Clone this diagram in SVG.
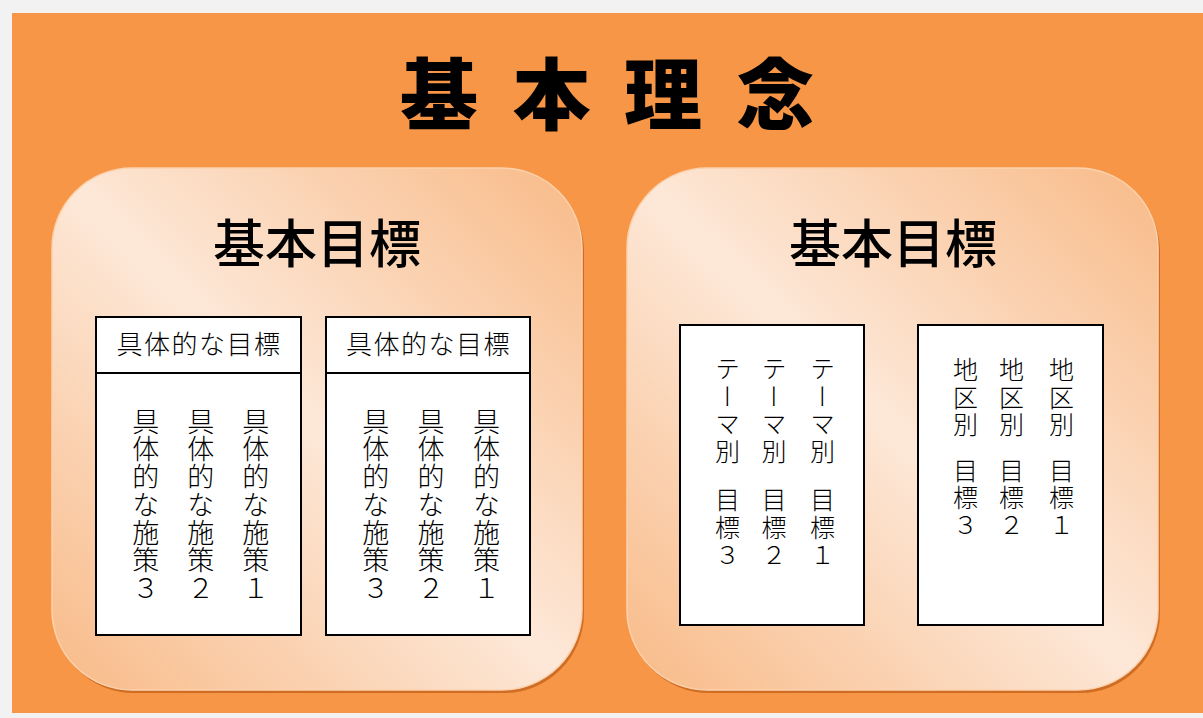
<svg xmlns="http://www.w3.org/2000/svg" width="1203" height="718" viewBox="0 0 1203 718">
<defs>
<linearGradient id="panel" x1="1" y1="0" x2="0" y2="1">
<stop offset="0" stop-color="#F8BA87"/>
<stop offset="0.5" stop-color="#FDE8D8"/>
<stop offset="1" stop-color="#F8BA87"/>
</linearGradient>
<linearGradient id="panel2" x1="1" y1="0" x2="0" y2="1">
<stop offset="0" stop-color="#F8BA87"/>
<stop offset="0.5" stop-color="#FDE8D8"/>
<stop offset="1" stop-color="#F8BA87"/>
</linearGradient>
</defs>
<style>
.title{font-family:"Noto Sans CJK JP","Noto Sans CJK SC",sans-serif;font-weight:900;font-size:78px;fill:#000;text-anchor:middle}
.head{font-family:"Noto Sans CJK JP","Noto Sans CJK SC",sans-serif;font-weight:500;font-size:52px;fill:#000;text-anchor:middle}
.sub{font-family:"Noto Sans CJK JP","Noto Sans CJK SC",sans-serif;font-weight:300;font-size:26px;letter-spacing:1.5px;fill:#000;text-anchor:middle}
.v1{font-family:"Noto Sans CJK JP","Noto Sans CJK SC",sans-serif;font-weight:300;font-size:27px;letter-spacing:0.7px;fill:#000;writing-mode:vertical-rl}
.v2{font-family:"Noto Sans CJK JP","Noto Sans CJK SC",sans-serif;font-weight:300;font-size:25px;letter-spacing:2.5px;fill:#000;writing-mode:vertical-rl}
.shadow{fill:#C9661F;opacity:0.85}
.panel{stroke:#FBD2AE;stroke-width:1.5}
.box{fill:#FFFFFF;stroke:#000;stroke-width:2}
</style>
<rect x="0" y="0" width="1203" height="718" fill="#F2F2F2"/>
<rect x="12" y="13" width="1191" height="700" fill="#F79646"/>
<g id="title">
<text class="title" x="439 551.5 663 775.5" y="124">基本理念</text>
</g>
<g id="panel-left">
<rect class="shadow" x="54" y="171" width="530" height="522" rx="80" ry="80"/>
<rect class="panel" x="52" y="168" width="530" height="522" rx="80" ry="80" fill="url(#panel)"/>
<text class="head" x="317" y="263">基本目標</text>
</g>
<g id="panel-right">
<rect class="shadow" x="629" y="171" width="531" height="522" rx="80" ry="80"/>
<rect class="panel" x="627" y="168" width="531" height="522" rx="80" ry="80" fill="url(#panel2)"/>
<text class="head" x="893" y="263">基本目標</text>
</g>
<g id="box1">
<rect class="box" x="96" y="317" width="205" height="318"/>
<line x1="96" y1="373" x2="301" y2="373" stroke="#000" stroke-width="2"/>
<text class="sub" x="199" y="354">具体的な目標</text>
<text class="v1" x="255.8" y="408">具体的な施策１</text>
<text class="v1" x="200.8" y="408">具体的な施策２</text>
<text class="v1" x="145.8" y="408">具体的な施策３</text>
</g>
<g id="box2">
<rect class="box" x="326" y="317" width="204" height="318"/>
<line x1="326" y1="373" x2="530" y2="373" stroke="#000" stroke-width="2"/>
<text class="sub" x="428.5" y="354">具体的な目標</text>
<text class="v1" x="486.5" y="408">具体的な施策１</text>
<text class="v1" x="431" y="408">具体的な施策２</text>
<text class="v1" x="375.7" y="408">具体的な施策３</text>
</g>
<g id="box3">
<rect class="box" x="680" y="325" width="184" height="300"/>
<text class="v2" x="822.5" y="356">テーマ別<tspan y="487">目標１</tspan></text>
<text class="v2" x="774" y="356">テーマ別<tspan y="487">目標２</tspan></text>
<text class="v2" x="727.5" y="356">テーマ別<tspan y="487">目標３</tspan></text>
</g>
<g id="box4">
<rect class="box" x="918" y="325" width="185" height="300"/>
<text class="v2" x="1061.5" y="357">地区別<tspan y="457">目標１</tspan></text>
<text class="v2" x="1011.5" y="357">地区別<tspan y="457">目標２</tspan></text>
<text class="v2" x="965.5" y="357">地区別<tspan y="457">目標３</tspan></text>
</g>
<g id="connectors"></g>
</svg>
